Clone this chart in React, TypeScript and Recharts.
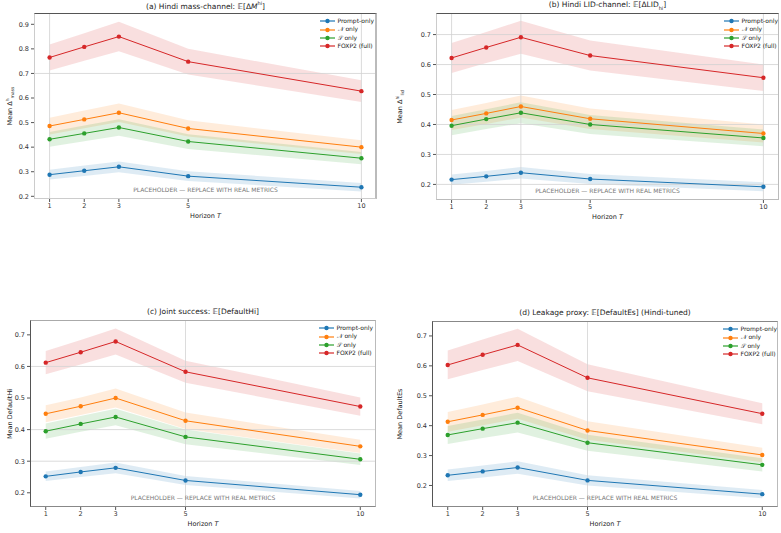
import React from 'react'
import { ComposedChart, Line, Area, XAxis, YAxis, ReferenceLine } from 'recharts'

const HORIZONS = [1, 2, 3, 5, 10]
const X_TICKS = [1, 2, 3, 5, 10]
const SERIES = ['Prompt-only', '𝒩 only', '𝒮 only', 'FOXP2 (full)']
const COLORS = ['#1f77b4', '#ff7f0e', '#2ca02c', '#d62728']

// (a) mass channel
const massPrompt = [0.288, 0.304, 0.32, 0.282, 0.237]
const massN = [0.486, 0.513, 0.54, 0.476, 0.4]
const massS = [0.432, 0.456, 0.48, 0.423, 0.355]
const massFull = [0.765, 0.808, 0.85, 0.748, 0.628]
const massPromptErr = [0.02, 0.021, 0.022, 0.02, 0.017]
const massNErr = [0.034, 0.036, 0.038, 0.033, 0.028]
const massSErr = [0.03, 0.032, 0.034, 0.03, 0.025]
const massFullErr = [0.053, 0.056, 0.06, 0.052, 0.044]

// (b) LID channel
const lidPrompt = [0.216, 0.227, 0.239, 0.218, 0.192]
const lidN = [0.415, 0.437, 0.46, 0.419, 0.37]
const lidS = [0.396, 0.418, 0.439, 0.4, 0.355]
const lidFull = [0.622, 0.657, 0.691, 0.63, 0.556]
const lidPromptErr = [0.017, 0.018, 0.019, 0.017, 0.015]
const lidNErr = [0.033, 0.035, 0.037, 0.034, 0.03]
const lidSErr = [0.032, 0.033, 0.035, 0.032, 0.028]
const lidFullErr = [0.05, 0.052, 0.055, 0.05, 0.044]

// (c) joint success
const jointPrompt = [0.252, 0.266, 0.279, 0.239, 0.194]
const jointN = [0.45, 0.474, 0.5, 0.428, 0.347]
const jointS = [0.395, 0.418, 0.44, 0.377, 0.306]
const jointFull = [0.612, 0.645, 0.679, 0.583, 0.473]
const jointPromptErr = [0.015, 0.016, 0.017, 0.014, 0.012]
const jointNErr = [0.027, 0.028, 0.03, 0.026, 0.021]
const jointSErr = [0.024, 0.025, 0.026, 0.023, 0.018]
const jointFullErr = [0.037, 0.039, 0.041, 0.035, 0.029]

// (d) leakage proxy
const leakPrompt = [0.234, 0.247, 0.26, 0.217, 0.171]
const leakN = [0.413, 0.436, 0.46, 0.384, 0.302]
const leakS = [0.369, 0.39, 0.41, 0.343, 0.269]
const leakFull = [0.603, 0.637, 0.67, 0.56, 0.44]
const leakPromptErr = [0.019, 0.02, 0.021, 0.017, 0.014]
const leakNErr = [0.033, 0.035, 0.037, 0.031, 0.024]
const leakSErr = [0.03, 0.031, 0.033, 0.027, 0.022]
const leakFullErr = [0.048, 0.051, 0.054, 0.045, 0.035]

const FONT = '"DejaVu Sans", sans-serif'
const PLACEHOLDER = 'PLACEHOLDER — REPLACE WITH REAL METRICS'

type Box = { x: number; y: number; w: number; h: number }
type Plot = { left: number; top: number; right: number; bottom: number }

interface PanelProps {
  box: Box
  plot: Plot
  title: React.ReactNode
  yLabel: React.ReactNode
  yDomain: [number, number]
  yTicks: number[]
  means: number[][]
  errs: number[][]
  gridX: number[]
  gridY: number[]
  spines: { top: string; left: string; bottom: string; right: string }
  legendRight: number
}

function Panel({ box, plot, title, yLabel, yDomain, yTicks, means, errs, gridX, gridY, spines, legendRight }: PanelProps) {
  const rows = HORIZONS.map((h, i) => {
    const row: Record<string, any> = { T: h }
    means.forEach((m, k) => {
      row['m' + k] = m[i]
      row['b' + k] = [m[i] - errs[k][i], m[i] + errs[k][i]]
    })
    return row
  })
  const pl = plot.left - box.x
  const pt = plot.top - box.y
  const pw = plot.right - plot.left
  const ph = plot.bottom - plot.top

  return (
    <div style={{ position: 'absolute', left: box.x, top: box.y, width: box.w, height: box.h, fontFamily: FONT }}>
      <ComposedChart
        width={box.w}
        height={box.h}
        data={rows}
        margin={{ top: pt, right: box.x + box.w - plot.right, bottom: 0, left: 0 }}
      >
        <XAxis
          dataKey="T"
          type="number"
          domain={[0.55, 10.45]}
          ticks={X_TICKS}
          allowDataOverflow
          height={box.y + box.h - plot.bottom}
          axisLine={false}
          tickSize={3}
          tickMargin={1}
          tickLine={{ stroke: '#555' }}
          tick={{ fontSize: 6.5, fill: '#333', fontFamily: FONT }}
        />
        <YAxis
          type="number"
          domain={yDomain}
          ticks={yTicks}
          allowDataOverflow
          width={pl}
          axisLine={false}
          tickSize={3}
          tickMargin={2}
          tickLine={{ stroke: '#555' }}
          tickFormatter={(v: number) => v.toFixed(1)}
          tick={{ fontSize: 6.5, fill: '#333', fontFamily: FONT }}
        />
        {gridX.map((v) => (
          <ReferenceLine key={'gx' + v} x={v} stroke="#d2d2d2" strokeWidth={0.8} />
        ))}
        {gridY.map((v) => (
          <ReferenceLine key={'gy' + v} y={v} stroke="#d2d2d2" strokeWidth={0.8} />
        ))}
        {means.map((_, k) => (
          <Area
            key={'a' + k}
            dataKey={'b' + k}
            type="linear"
            stroke="none"
            fill={COLORS[k]}
            fillOpacity={0.15}
            dot={false}
            activeDot={false}
            isAnimationActive={false}
          />
        ))}
        {means.map((_, k) => (
          <Line
            key={'l' + k}
            dataKey={'m' + k}
            type="linear"
            stroke={COLORS[k]}
            strokeWidth={1}
            dot={{ r: 2.2, fill: COLORS[k], stroke: COLORS[k], strokeWidth: 0 }}
            activeDot={false}
            isAnimationActive={false}
          />
        ))}
      </ComposedChart>

      {/* spines */}
      <div
        style={{
          position: 'absolute', left: pl, top: pt, width: pw, height: ph, boxSizing: 'border-box',
          borderTop: spines.top, borderLeft: spines.left, borderBottom: spines.bottom, borderRight: spines.right,
          pointerEvents: 'none',
        }}
      />

      {/* title */}
      <div style={{ position: 'absolute', left: pl, width: pw, top: pt - 13, textAlign: 'center', fontSize: 7.5, color: '#222', whiteSpace: 'nowrap' }}>
        {title}
      </div>

      {/* y label */}
      <div
        style={{
          position: 'absolute', left: 4, top: pt + ph / 2, width: 0, height: 0, fontSize: 6.5, color: '#222',
        }}
      >
        <div style={{ position: 'absolute', transform: 'translate(-50%, -50%) rotate(-90deg)', whiteSpace: 'nowrap', left: 6, top: 0 }}>
          {yLabel}
        </div>
      </div>

      {/* x label */}
      <div style={{ position: 'absolute', left: pl, width: pw, top: ph + pt + 13, textAlign: 'center', fontSize: 6.5, color: '#222' }}>
        Horizon <i>T</i>
      </div>

      {/* placeholder */}
      <div style={{ position: 'absolute', left: pl, width: pw, top: pt + ph - 13, textAlign: 'center', fontSize: 6, color: '#777', whiteSpace: 'nowrap' }}>
        {PLACEHOLDER}
      </div>

      {/* legend */}
      <div style={{ position: 'absolute', right: legendRight, top: pt + 4, fontSize: 6, color: '#222', lineHeight: '8.4px' }}>
        {SERIES.map((name, k) => (
          <div key={name} style={{ display: 'flex', alignItems: 'center', whiteSpace: 'nowrap' }}>
            <svg width={15} height={6} style={{ marginRight: 3 }}>
              <line x1={0} y1={3} x2={15} y2={3} stroke={COLORS[k]} strokeWidth={1.2} />
              <circle cx={7.5} cy={3} r={2.2} fill={COLORS[k]} />
            </svg>
            {name}
          </div>
        ))}
      </div>
    </div>
  )
}

export default function App() {
  return (
    <div style={{ position: 'absolute', left: 0, top: 0, width: 781, height: 533, background: '#fff' }}>
      <Panel
        box={{ x: 0, y: 0, w: 390, h: 230 }}
        plot={{ left: 34, top: 13, right: 377, bottom: 199 }}
        title={<>(a) Hindi mass-channel: <i>𝔼</i>[Δ<i>M</i><sup style={{ fontSize: 5 }}>hi</sup>]</>}
        yLabel={<>Mean Δ<sup style={{ fontSize: 4.5 }}>h</sup><sub style={{ fontSize: 4.5 }}>mass</sub></>}
        yDomain={[0.189, 0.946]}
        yTicks={[0.2, 0.3, 0.4, 0.5, 0.6, 0.7, 0.8, 0.9]}
        means={[massPrompt, massN, massS, massFull]}
        errs={[massPromptErr, massNErr, massSErr, massFullErr]}
        gridX={[1, 10]}
        gridY={[0.7]}
        spines={{ top: '1px solid #555', left: '1px solid #ccc', bottom: '1px solid #ccc', right: '2px solid #bbb' }}
        legendRight={390 - 377 + 3}
      />
      <Panel
        box={{ x: 390, y: 0, w: 391, h: 230 }}
        plot={{ left: 436, top: 13, right: 779, bottom: 200 }}
        title={<>(b) Hindi LID-channel: <i>𝔼</i>[ΔLID<sub style={{ fontSize: 5 }}>hi</sub>]</>}
        yLabel={<>Mean Δ<sup style={{ fontSize: 4.5 }}>hi</sup><sub style={{ fontSize: 4.5 }}>lid</sub></>}
        yDomain={[0.148, 0.772]}
        yTicks={[0.2, 0.3, 0.4, 0.5, 0.6, 0.7]}
        means={[lidPrompt, lidN, lidS, lidFull]}
        errs={[lidPromptErr, lidNErr, lidSErr, lidFullErr]}
        gridX={[1, 3, 10]}
        gridY={[0.2, 0.3, 0.4, 0.5, 0.6, 0.7]}
        spines={{ top: '1px solid #555', left: '1px solid #ccc', bottom: '1px solid #bbb', right: '1px solid #bbb' }}
        legendRight={3}
      />
      <Panel
        box={{ x: 0, y: 300, w: 390, h: 233 }}
        plot={{ left: 30, top: 320, right: 376, bottom: 507 }}
        title={<>(c) Joint success: <i>𝔼</i>[DefaultHi]</>}
        yLabel={<>Mean DefaultHi</>}
        yDomain={[0.155, 0.747]}
        yTicks={[0.2, 0.3, 0.4, 0.5, 0.6, 0.7]}
        means={[jointPrompt, jointN, jointS, jointFull]}
        errs={[jointPromptErr, jointNErr, jointSErr, jointFullErr]}
        gridX={[5]}
        gridY={[0.3, 0.4, 0.6]}
        spines={{ top: '1px solid #aaa', left: '1px solid #555', bottom: '1px solid #888', right: '1px solid #bbb' }}
        legendRight={390 - 376 + 3}
      />
      <Panel
        box={{ x: 390, y: 300, w: 391, h: 233 }}
        plot={{ left: 432, top: 321, right: 778, bottom: 507 }}
        title={<>(d) Leakage proxy: <i>𝔼</i>[DefaultEs] (Hindi-tuned)</>}
        yLabel={<>Mean DefaultEs</>}
        yDomain={[0.128, 0.75]}
        yTicks={[0.2, 0.3, 0.4, 0.5, 0.6, 0.7]}
        means={[leakPrompt, leakN, leakS, leakFull]}
        errs={[leakPromptErr, leakNErr, leakSErr, leakFullErr]}
        gridX={[5]}
        gridY={[]}
        spines={{ top: '1px solid #888', left: '1px solid #555', bottom: '1px solid #888', right: '1px solid #bbb' }}
        legendRight={4}
      />
    </div>
  )
}
